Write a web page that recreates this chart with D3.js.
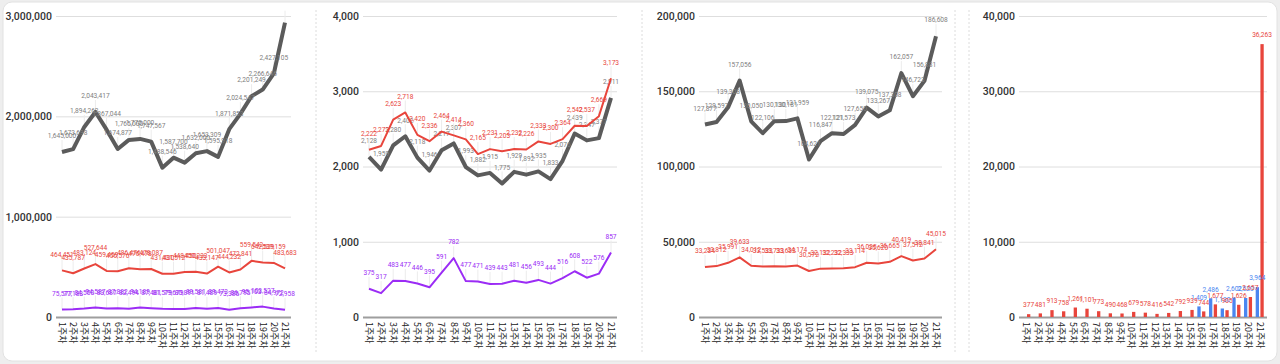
<!DOCTYPE html>
<html><head><meta charset="utf-8">
<script src="https://cdn.jsdelivr.net/npm/d3@7"></script>
<style>body{margin:0;background:#eeeeee;} svg{display:block}</style>
</head><body><svg id="c" width="1280" height="364"></svg>
<script>
const weeks = ["1주차","2주차","3주차","4주차","5주차","6주차","7주차","8주차","9주차","10주차","11주차","12주차","13주차","14주차","15주차","16주차","17주차","18주차","19주차","20주차","21주차"];

// Panel 1
const p1Gray = [1645000,1673698,1894262,2043417,1867044,1674877,1765000,1775000,1747567,1488546,1587700,1538640,1632000,1653309,1595918,1871853,2024547,2201249,2266646,2427105,2934000];
const p1Red = [464451,435787,483124,527644,459459,456576,486476,476478,478087,431430,431512,448450,450233,433147,501047,444232,472841,559542,542539,539159,483683];
const p1Purple = [75577,77183,84500,94587,83687,87882,82494,94189,87481,81579,79679,80891,89581,81489,89473,73386,86795,95103,103527,84972,72958];
const p1Ticks = [0,1000000,2000000,3000000];

// Panel 2
const p2Gray = [2128,1959,2280,2402,2118,1946,2217,2307,1993,1882,1915,1775,1929,1892,1935,1833,2076,2439,2347,2377,2911];
const p2Red = [2222,2273,2623,2718,2420,2336,2464,2414,2360,2165,2231,2203,2232,2226,2333,2300,2364,2542,2537,2669,3173];
const p2Purple = [375,317,483,477,446,395,591,782,477,471,439,443,481,456,493,444,516,608,522,576,857];
const p2Ticks = [0,1000,2000,3000,4000];

// Panel 3
const p3Gray = [127877,129597,139308,157056,130050,122106,130130,130181,131959,104621,116847,122121,121573,127650,139075,133267,137308,162057,146723,156881,186608];
const p3Red = [33234,33812,35991,39633,34012,33533,33733,33633,34174,30572,32132,32232,32333,33114,36035,35620,36665,40419,37512,38841,45015];
const p3Ticks = [0,50000,100000,150000,200000];

// Panel 4 (bars)
const p4Blue = [null,null,null,null,null,null,null,null,null,null,null,null,null,null,null,1409,2486,1130,2602,2520,3964];
const p4Red = [377,481,913,758,1261,1101,773,490,468,679,578,416,542,792,939,744,1677,905,1626,2657,36263];
const p4Ticks = [0,10000,20000,30000,40000];

const GRAY = "#5b5b5b", GRAYLAB = "#808080", RED = "#e8453c", PURPLE = "#9b2cf5", BLUE = "#4a86f0";
const FONT = "Roboto, Arial, sans-serif";
const KFONT = "'Noto Sans CJK KR', 'Noto Sans', sans-serif";
const LABEL_SIZE = 6.6;

const svg = d3.select("#c");
svg.append("rect").attr("x",3).attr("y",2).attr("width",1274).attr("height",359)
  .attr("rx",9).attr("fill","#fff").attr("stroke","#e2e2e2");

[316,642,955,969].forEach(x=>{
  svg.append("line").attr("x1",x).attr("x2",x).attr("y1",10).attr("y2",354)
    .attr("stroke","#dcdcdc").attr("stroke-dasharray","2,2");
});

const Y0 = 317, Y1 = 16;
const fmt = d3.format(",");

function frame(g, x0, x1, max, ticks){
  const y = d3.scaleLinear().domain([0,max]).range([Y0,Y1]);
  const ax = d3.axisLeft(y).tickValues(ticks).tickFormat(fmt).tickSize(-(x1-x0)).tickPadding(4);
  const a = g.append("g").attr("transform",`translate(${x0},0)`).call(ax);
  a.select(".domain").remove();
  a.selectAll(".tick line").attr("stroke",d=>d===0?"#9e9e9e":"#dedede").attr("stroke-width",d=>d===0?2:1);
  a.selectAll(".tick text").attr("font-family",FONT).attr("font-size",10.5).attr("font-weight",500).attr("fill","#333");
  return y;
}

function xAxis(g, x){
  const xa = g.append("g");
  weeks.forEach(w=>{
    const cx = x(w) + (x.bandwidth?x.bandwidth()/2:0);
    xa.append("text").attr("transform",`translate(${cx},${Y0+5}) rotate(90)`)
      .attr("dy","0.35em").attr("text-anchor","start")
      .attr("font-family",KFONT).attr("font-size",9).attr("fill","#222").text(w);
  });
}

function lineSeries(g, x, y, vals, color, width, labColor){
  const pts = vals.map((v,i)=>({w:weeks[i],v}));
  g.append("g").selectAll("line").data(pts).join("line")
    .attr("x1",d=>x(d.w)).attr("x2",d=>x(d.w))
    .attr("y1",d=>y(d.v)-12).attr("y2",d=>y(d.v))
    .attr("stroke","#ececec").attr("stroke-width",1);
  g.append("path").datum(pts)
    .attr("d",d3.line().x(d=>x(d.w)).y(d=>y(d.v)))
    .attr("fill","none").attr("stroke",color).attr("stroke-width",width)
    .attr("stroke-linejoin","round");
  g.append("g").selectAll("text").data(pts.filter(d=>y(d.v)-16>12)).join("text")
    .attr("x",d=>x(d.w)).attr("y",d=>y(d.v)-16).attr("dy","0.35em")
    .attr("text-anchor","middle").attr("font-family",FONT).attr("font-size",LABEL_SIZE)
    .attr("fill",labColor).text(d=>fmt(d.v));
}

function linePanel(x0,x1,max,ticks,series){
  const g = svg.append("g");
  const y = frame(g,x0,x1,max,ticks);
  const x = d3.scalePoint().domain(weeks).range([x0+6,x1-6]);
  xAxis(g,x);
  series.forEach(s=>lineSeries(g,x,y,s.vals,s.color,s.width,s.lab));
}

linePanel(56,291,3000000,p1Ticks,[
  {vals:p1Gray,color:GRAY,width:4,lab:GRAYLAB},
  {vals:p1Red,color:RED,width:2,lab:RED},
  {vals:p1Purple,color:PURPLE,width:2,lab:PURPLE}
]);
linePanel(363,617,4000,p2Ticks,[
  {vals:p2Gray,color:GRAY,width:4,lab:GRAYLAB},
  {vals:p2Red,color:RED,width:2,lab:RED},
  {vals:p2Purple,color:PURPLE,width:2,lab:PURPLE}
]);
linePanel(699,942,200000,p3Ticks,[
  {vals:p3Gray,color:GRAY,width:4,lab:GRAYLAB},
  {vals:p3Red,color:RED,width:2,lab:RED}
]);

(function(){
  const x0=1019,x1=1267;
  const g = svg.append("g");
  const y = frame(g,x0,x1,40000,p4Ticks);
  const x = d3.scaleBand().domain(weeks).range([x0,x1]).paddingInner(0.15).paddingOuter(0.2);
  const sub = d3.scaleBand().domain(["blue","red"]).range([0,x.bandwidth()]).paddingInner(0.3).paddingOuter(0.2);
  xAxis(g,x);
  const sets = [{k:"blue",vals:p4Blue,color:BLUE},{k:"red",vals:p4Red,color:RED}];
  sets.forEach(s=>{
    const d = s.vals.map((v,i)=>({w:weeks[i],v})).filter(d=>d.v!==null);
    g.append("g").selectAll("rect").data(d).join("rect")
      .attr("x",e=>x(e.w)+sub(s.k)).attr("width",sub.bandwidth())
      .attr("y",e=>y(e.v)).attr("height",e=>Y0-y(e.v)).attr("fill",s.color);
  });
  sets.forEach(s=>{
    const d = s.vals.map((v,i)=>({w:weeks[i],v})).filter(d=>d.v!==null);
    g.append("g").selectAll("text").data(d).join("text")
      .attr("x",e=>x(e.w)+sub(s.k)+sub.bandwidth()/2).attr("y",e=>y(e.v)-9).attr("dy","0.35em")
      .attr("text-anchor","middle").attr("font-family",FONT).attr("font-size",LABEL_SIZE)
      .attr("fill",s.color).text(e=>fmt(e.v));
  });
})();
</script></body></html>
